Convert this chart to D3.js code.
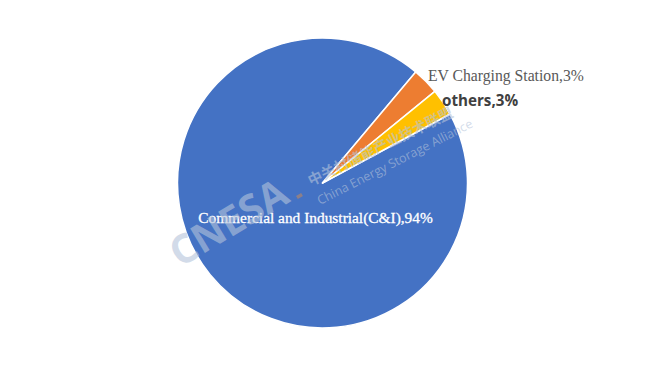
<!DOCTYPE html>
<html>
<head>
<meta charset="utf-8">
<script src="https://cdn.jsdelivr.net/npm/d3@7"></script>
<style>
  body { margin: 0; background: #fff; }
</style>
</head>
<body>
<script>
const categories = ["Commercial and Industrial(C&I)", "EV Charging Station", "others"]
const shares = [94, 3, 3]
const shareLabels = ["94%", "3%", "3%"]
const colors = ["#4472C4", "#ED7D31", "#FFC000"]

const width = 647, height = 369
const cx = 322.5, cy = 183, r = 145

const svg = d3.select("body").append("svg")
    .attr("width", width)
    .attr("height", height)

svg.append("rect").attr("width", width).attr("height", height).attr("fill", "#fff")

// pie, first slice starts so that the small slices sit top-right
const startDeg = 61.6
const pie = d3.pie().sort(null).value(d => d)
    .startAngle(startDeg * Math.PI / 180)
    .endAngle((startDeg + 360) * Math.PI / 180)
const arc = d3.arc().innerRadius(0).outerRadius(r)

const g = svg.append("g").attr("transform", `translate(${cx},${cy})`)
const arcs = pie(shares)

g.selectAll("path")
    .data(arcs)
    .enter().append("path")
    .attr("d", arc)
    .attr("fill", (d, i) => colors[i])
    .attr("stroke", "#fff")
    .attr("stroke-width", 1.5)
    .attr("stroke-linejoin", "round")

// labels
svg.append("text")
    .attr("x", 315.5).attr("y", 223)
    .attr("text-anchor", "middle")
    .attr("font-family", "Liberation Serif, serif")
    .attr("font-size", 15.4)
    .attr("fill", "#fff")
    .style("paint-order", "stroke")
    .attr("stroke", "#fff").attr("stroke-width", 0.3)
    .text(categories[0] + "," + shareLabels[0])

svg.append("text")
    .attr("x", 428).attr("y", 81)
    .attr("font-family", "Liberation Serif, serif")
    .attr("font-size", 15.7)
    .attr("fill", "#595959")
    .text(categories[1] + "," + shareLabels[1])

svg.append("text")
    .attr("x", 442).attr("y", 106)
    .attr("font-family", "Open Sans, sans-serif")
    .attr("font-weight", "bold")
    .attr("font-size", 15.2)
    .attr("fill", "#404040")
    .text(categories[2] + "," + shareLabels[2])

// watermark
const wm = svg.append("g").attr("pointer-events", "none")
wm.append("text")
    .attr("transform", "translate(180,268) rotate(-31)")
    .attr("font-family", "Open Sans, sans-serif")
    .attr("font-weight", "bold")
    .attr("font-size", 40)
    .attr("fill", "#b4c3da")
    .attr("fill-opacity", 0.6)
    .text("CNESA")
wm.append("rect")
    .attr("transform", "translate(296,196) rotate(-31)")
    .attr("width", 6).attr("height", 3.5)
    .attr("fill", "#c98a5a").attr("fill-opacity", 0.55)
wm.append("text")
    .attr("transform", "translate(311,186) rotate(-26)")
    .attr("font-family", "Noto Sans CJK SC, sans-serif")
    .attr("font-weight", "bold")
    .attr("font-size", 14.5)
    .attr("fill", "#b4c3da")
    .attr("fill-opacity", 0.6)
    .text("中关村储能产业技术联盟")
wm.append("text")
    .attr("transform", "translate(320,205) rotate(-27)")
    .attr("font-family", "Open Sans, sans-serif")
    .attr("font-size", 12.5)
    .attr("fill", "#b4c3da")
    .attr("fill-opacity", 0.6)
    .text("China Energy Storage Alliance")
</script>
</body>
</html>
